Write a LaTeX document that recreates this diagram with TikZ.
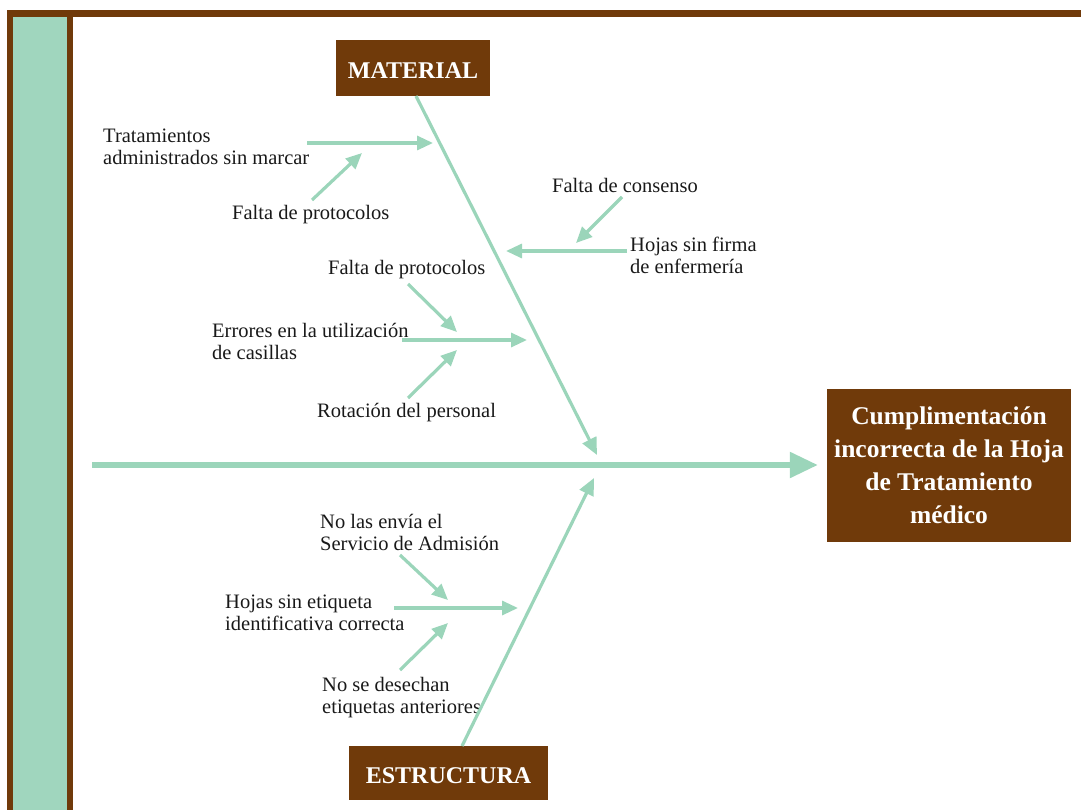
\documentclass[tikz,border=0pt]{standalone}
\usepackage{fontspec}
\setmainfont{Liberation Serif}
\usetikzlibrary{arrows.meta}
\definecolor{brn}{RGB}{112,58,10}
\definecolor{grn}{RGB}{155,213,186}
\definecolor{pnl}{RGB}{160,214,190}
\definecolor{txt}{RGB}{25,25,25}
\begin{document}
\begin{tikzpicture}[x=1pt,y=-1pt,
  lbl/.style={inner sep=0pt, align=left, font=\fontsize{20.5}{22}\selectfont, text=txt},
  head/.style={fill=brn, text=white, font=\bfseries\fontsize{24}{28}\selectfont, inner sep=0pt,
               text height=21pt, text depth=0pt},
  spine/.style={draw=grn, line width=5.5pt, -{Triangle[length=28pt,width=25pt]}},
  bone/.style={draw=grn, line width=3.2pt, -{Triangle[length=17pt,width=15pt]}},
  arr/.style={draw=grn, line width=3.2pt, -{Triangle[length=16pt,width=14pt]}},
]
\useasboundingbox (0,0) rectangle (1081,810);
% frame
\fill[brn] (7,10) rectangle (1081,17);
\fill[brn] (7,10) rectangle (13,810);
\fill[pnl] (13,17) rectangle (67,810);
\fill[brn] (67,17) rectangle (73,810);

% category boxes and effect
\node[head, minimum width=154pt, minimum height=56pt] (m) at (413,68) {MATERIAL};
\node[head, minimum width=199pt, minimum height=54pt] (e) at (448.5,773) {ESTRUCTURA};
\node[fill=brn, text=white, font=\bfseries\fontsize{25.5}{33}\selectfont, align=center,
      minimum width=244pt, minimum height=153pt, inner sep=0pt] (f) at (949,465)
      {Cumplimentación\\incorrecta de la Hoja\\de Tratamiento\\médico};

% labels
\node[lbl, anchor=west] (t1) at (103,147) {Tratamientos\\administrados sin marcar};
\node[lbl, anchor=west] (t1a) at (232,215) {Falta de protocolos};
\node[lbl, anchor=west] (t2) at (630,255) {Hojas sin firma\\de enfermería};
\node[lbl, anchor=west] (t2a) at (552,185) {Falta de consenso};
\node[lbl, anchor=west] (t3) at (212,341) {Errores en la utilización\\de casillas};
\node[lbl, anchor=west] (t3a) at (328,270) {Falta de protocolos};
\node[lbl, anchor=west] (t3b) at (317,413) {Rotación del personal};
\node[lbl, anchor=west] (t4) at (225,613) {Hojas sin etiqueta\\identificativa correcta};
\node[lbl, anchor=west] (t4a) at (320,532) {No las envía el\\Servicio de Admisión};
\node[lbl, anchor=west] (t4b) at (322,698) {No se desechan\\etiquetas anteriores};

% spine and bones
\coordinate (s0) at (92,465);
\draw[spine, shorten >=9pt] (s0) -- (f.west |- s0);
\coordinate (mb) at (416,96);
\coordinate (mt) at (597,455);
\draw[bone] (mb) -- (mt);
\coordinate (eb) at (462,746);
\coordinate (et) at (594,478);
\draw[bone] (eb) -- (et);

% branch end points
\coordinate (a1e) at (433,143);
\coordinate (a1ae) at (362,153);
\coordinate (a2e) at (506,251);
\coordinate (a2ae) at (576,243);
\coordinate (a3e) at (527,340);
\coordinate (a3ae) at (457,332);
\coordinate (a3be) at (457,350);
\coordinate (a4e) at (518,608);
\coordinate (a4ae) at (448,600);
\coordinate (a4be) at (448,623);

\coordinate (a1s) at (307,143);
\coordinate (a1as) at (312,200);
\coordinate (a2s) at (627,251);
\coordinate (a2as) at (622,197);
\coordinate (a3s) at (402,340);
\coordinate (a3as) at (408,284);
\coordinate (a3bs) at (408,398);
\coordinate (a4s) at (394,608);
\coordinate (a4as) at (400,555);
\coordinate (a4bs) at (400,670);

\draw[arr] (a1s) -- (a1e);
\draw[arr] (a1as) -- (a1ae);
\draw[arr] (a2s) -- (a2e);
\draw[arr] (a2as) -- (a2ae);
\draw[arr] (a3s) -- (a3e);
\draw[arr] (a3as) -- (a3ae);
\draw[arr] (a3bs) -- (a3be);
\draw[arr] (a4s) -- (a4e);
\draw[arr] (a4as) -- (a4ae);
\draw[arr] (a4bs) -- (a4be);
\end{tikzpicture}
\end{document}
